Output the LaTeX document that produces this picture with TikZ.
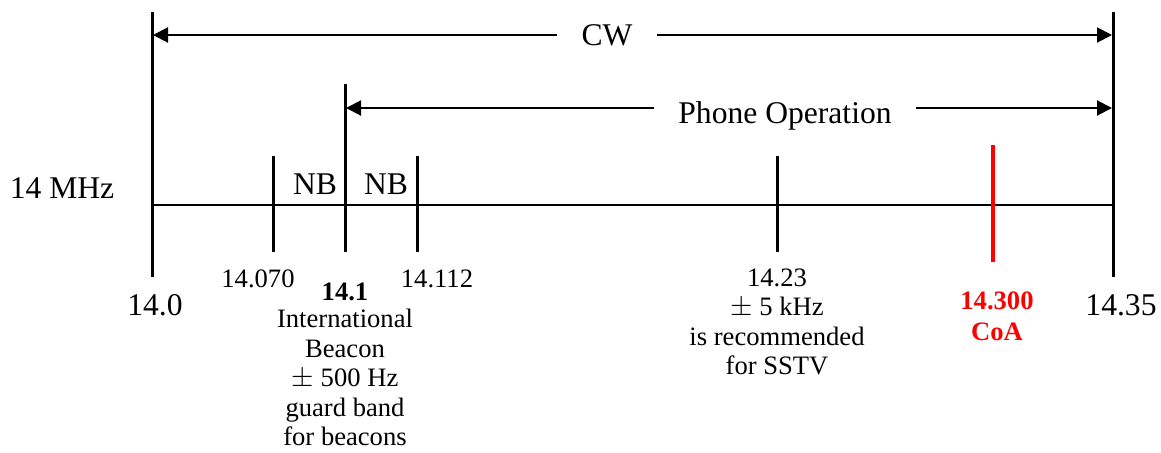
\documentclass[tikz,border=0pt]{standalone}
\usepackage{fontspec}
\setmainfont{Liberation Serif}
\usetikzlibrary{arrows.meta}
\definecolor{cred}{RGB}{255,0,0}
\tikzset{
  bigtxt/.style={font=\fontsize{15.8}{18}\selectfont, inner sep=0pt},
  smalltxt/.style={font=\fontsize{13.3}{14.75}\selectfont, inner sep=0pt, align=center},
  boldtxt/.style={font=\fontsize{13.3}{15.5}\selectfont\bfseries, inner sep=0pt, align=center},
  gaptxt/.style={font=\fontsize{15.8}{18}\selectfont, inner xsep=12pt, inner ysep=0pt},
  bar/.style={line width=1.5pt},
  axisline/.style={line width=1pt},
  dimarrow/.style={line width=1pt, -{Triangle[length=7.5pt,width=7.5pt]}},
  redbar/.style={line width=2.4pt, draw=cred}
}
\begin{document}
\begin{tikzpicture}[x=0.5pt,y=-0.5pt]
\useasboundingbox (0,0) rectangle (1161,452);
% vertical bars
\coordinate (Lt) at (152,12); \coordinate (Lb) at (152,277);
\coordinate (Rt) at (1113,12); \coordinate (Rb) at (1113,277);
\coordinate (Pt) at (345,84); \coordinate (Pb) at (345,252);
\draw[bar] (Lt) -- (Lb);
\draw[bar] (Rt) -- (Rb);
\draw[bar] (Pt) -- (Pb);
% main axis
\coordinate (A0) at (152,205); \coordinate (A1) at (1113,205);
\draw[axisline] (A0) -- (A1);
% ticks
\coordinate (T1t) at (273,156); \coordinate (T1b) at (273,252);
\coordinate (T2t) at (417,156); \coordinate (T2b) at (417,252);
\coordinate (T3t) at (777,156); \coordinate (T3b) at (777,252);
\coordinate (T4t) at (993,145); \coordinate (T4b) at (993,262);
\draw[bar] (T1t) -- (T1b);
\draw[bar] (T2t) -- (T2b);
\draw[bar] (T3t) -- (T3b);
\draw[redbar] (T4t) -- (T4b);
% CW arrow
\node[gaptxt] (cw) at (607,35) {CW};
\coordinate (cwL) at (153,35); \coordinate (cwR) at (1112,35);
\draw[dimarrow] (cw.west |- cwL) -- (cwL);
\draw[dimarrow] (cw.east |- cwR) -- (cwR);
% Phone operation arrow
\node[gaptxt] (ph) at (785,116) {Phone Operation};
\coordinate (phL) at (346,108); \coordinate (phR) at (1112,108);
\draw[dimarrow] (ph.west |- phL) -- (phL);
\draw[dimarrow] (ph.east |- phR) -- (phR);
% labels
\node[bigtxt] (mhz) at (62,188) {14 MHz};
\node[bigtxt] (nb1) at (315,184) {NB};
\node[bigtxt] (nb2) at (386,184) {NB};
\node[bigtxt] (l140) at (155,305) {14.0};
\node[bigtxt] (l1435) at (1121,305) {14.35};
\node[smalltxt] (l14070) at (258,279) {14.070};
\node[smalltxt] (l14112) at (437,279) {14.112};
\node[boldtxt] (l141) at (345,292) {14.1};
\node[smalltxt, anchor=north] (beacon) at (345,309) {International\\Beacon\\$\pm$ 500 Hz\\guard band\\for beacons};
\node[smalltxt, anchor=north] (sstv) at (777,268) {14.23\\$\pm$ 5 kHz\\is recommended\\for SSTV};
\node[boldtxt, text=cred, anchor=north] (coa) at (997,291) {14.300\\CoA};
\end{tikzpicture}
\end{document}
